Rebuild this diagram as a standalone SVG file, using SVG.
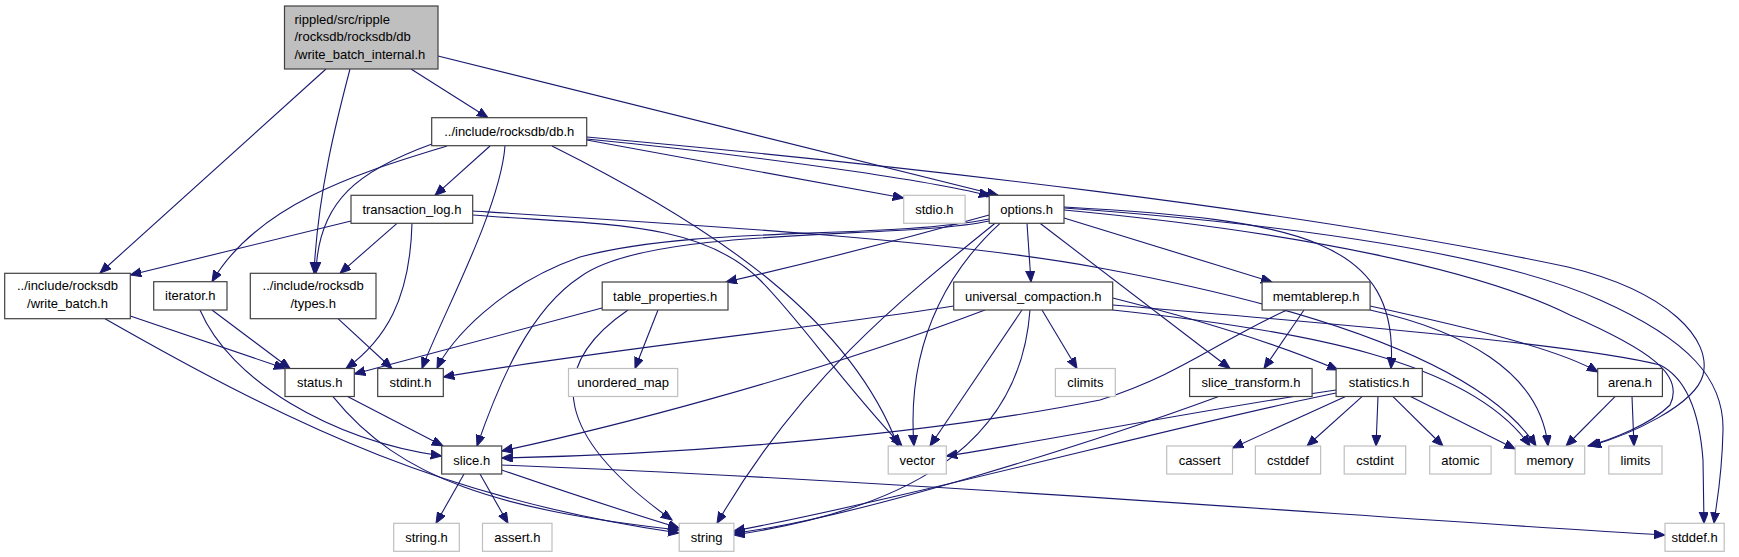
<svg xmlns="http://www.w3.org/2000/svg" width="1739" height="557" viewBox="0 0 1739 557">
<style>
.n rect{fill:#fff;stroke:#404040;stroke-width:1.2}
.g rect{fill:#fff;stroke:#bfbfbf;stroke-width:1.2}
.r rect{fill:#bfbfbf;stroke:#404040;stroke-width:1.2}
text{font-family:"Liberation Sans",Arial,Helvetica,sans-serif;font-size:13px;fill:#000}
.c{text-anchor:middle}
.e path{fill:none;stroke:#191970;stroke-width:1.1;marker-end:url(#a)}
</style>
<defs>
<marker id="a" markerWidth="12" markerHeight="10" refX="11" refY="4.5" orient="auto" markerUnits="userSpaceOnUse">
<path d="M0,0 L11,4.5 L0,9 z" fill="#191970" stroke="#191970" stroke-width="1"/>
</marker>
</defs>
<rect width="1739" height="557" fill="#fff"/>
<g class="e" id="edges">
<path d="M326,69 L100,273"/>
<path d="M350,69 C338,115 318,190 314,273"/>
<path d="M411,69 L488,117.7"/>
<path d="M438,56 L998,195.3"/>
<path d="M447,146 C370,170 260,200 212,281.7"/>
<path d="M432,144 C360,170 318,200 316,273"/>
<path d="M490,146 L435,195.3"/>
<path d="M505,146 C500,210 440,320 422,368.5"/>
<path d="M552,146 C720,230 850,320 898,446"/>
<path d="M586.7,140 L903.7,198"/>
<path d="M586.7,139 C800,160 950,185 990,196"/>
<path d="M586.7,137 C900,165 1300,210 1568,267 C1670,292 1712,340 1703,375 C1695,405 1630,435 1590,446"/>
<path d="M351,221 L130.3,275"/>
<path d="M397,223.3 L340,273.3"/>
<path d="M412,223.3 C410,300 385,340 346,368.5"/>
<path d="M472.7,211 C700,225 950,240 1100,268 C1300,305 1480,360 1536,446"/>
<path d="M472.7,215 C600,225 700,220 760,280 C800,320 840,380 902,446"/>
<path d="M989.2,215 C900,240 800,265 726,282"/>
<path d="M1027,223.3 L1031,282"/>
<path d="M1064,218 L1272,282"/>
<path d="M1040,223.3 L1230,368.5"/>
<path d="M1064,207 C1300,220 1400,240 1391,368.5"/>
<path d="M1064,210 C1300,232 1480,270 1570,315 C1650,350 1685,375 1670,405 C1650,425 1610,440 1588,446"/>
<path d="M1064,208 C1300,225 1500,255 1600,300 C1690,340 1724,380 1723,430 C1722,480 1716,505 1714,523.3"/>
<path d="M989.2,221 C900,240 650,225 580,277 C530,310 500,380 477,446"/>
<path d="M989.2,219 C880,240 700,225 580,257 C500,285 450,340 437,368.5"/>
<path d="M1000,223.3 C960,260 905,330 914,446"/>
<path d="M995,223.3 C900,300 800,380 717,523.3"/>
<path d="M953.7,306 C800,330 600,350 443.3,377"/>
<path d="M985,310 C800,380 600,430 501.7,451"/>
<path d="M1022,310 L930,446"/>
<path d="M1030,310 C1020,450 900,510 733.9,535"/>
<path d="M1042,310 L1077,368.5"/>
<path d="M1112.7,298 C1200,320 1280,345 1338,370"/>
<path d="M1112.7,310 C1300,330 1470,360 1530,446"/>
<path d="M1112.7,305 C1350,325 1580,345 1660,365 C1690,380 1700,420 1703,460 L1704,523.3"/>
<path d="M1287,310 C1220,340 1180,375 1100,400 C900,440 650,455 501.7,458"/>
<path d="M1304,310 L1264,368.5"/>
<path d="M1370,306 C1480,330 1560,350 1598,372"/>
<path d="M1370,310 C1460,330 1540,370 1548,446"/>
<path d="M130.3,316 L285,368.5"/>
<path d="M105,318.7 C300,430 450,500 679,533"/>
<path d="M212,310 L290,368.5"/>
<path d="M200,310 C230,380 330,440 441.7,456"/>
<path d="M338,318.7 L392,368.5"/>
<path d="M602,308 L354.3,374"/>
<path d="M658,310 L635,368.5"/>
<path d="M628,310 C540,370 560,440 672,520"/>
<path d="M348,396.7 L443,446"/>
<path d="M333,396.7 C400,480 500,510 679,530"/>
<path d="M1218,396.7 C1100,440 850,520 733.9,533"/>
<path d="M1345,396.7 L1232.5,448"/>
<path d="M1362,396.7 L1307,446"/>
<path d="M1378,396.7 L1376,446"/>
<path d="M1393,396.7 L1443,446"/>
<path d="M1411,396.7 L1515.2,449"/>
<path d="M1336,393 C1200,420 900,500 733.9,531"/>
<path d="M1336,390 C1200,410 1050,440 946.3,456"/>
<path d="M1615,396.7 L1566,446"/>
<path d="M1632,396.7 L1634,446"/>
<path d="M464,474 L436,523.3"/>
<path d="M480,474 L508,523.3"/>
<path d="M501.7,470 C560,490 620,510 679.2,528"/>
<path d="M501.7,465 C900,480 1400,520 1665,535"/>
</g>
<g id="n0" class="r"><rect x="284.5" y="6" width="153.5" height="63"/><text x="294.5" y="24">rippled/src/ripple</text><text x="294.5" y="41.4">/rocksdb/rocksdb/db</text><text x="294.5" y="58.7">/write_batch_internal.h</text></g>
<g id="n1" class="n"><rect x="431.7" y="117.7" width="155" height="28"/><text class="c" x="509.2" y="136.2">../include/rocksdb/db.h</text></g>
<g id="n2" class="n"><rect x="351" y="195.3" width="121.7" height="28"/><text class="c" x="411.9" y="213.8">transaction_log.h</text></g>
<g id="n3" class="g"><rect x="903.7" y="195.3" width="61.4" height="28"/><text class="c" x="934.4" y="213.8">stdio.h</text></g>
<g id="n4" class="n"><rect x="989.2" y="195.3" width="74.8" height="28"/><text class="c" x="1026.6" y="213.8">options.h</text></g>
<g id="n5" class="n"><rect x="4.7" y="273.3" width="125.6" height="45.4"/><text class="c" x="67.5" y="290.3">../include/rocksdb</text><text class="c" x="67.5" y="308">/write_batch.h</text></g>
<g id="n6" class="n"><rect x="153.7" y="281.7" width="73.3" height="28.3"/><text class="c" x="190.3" y="300.3">iterator.h</text></g>
<g id="n7" class="n"><rect x="250.3" y="273.3" width="125.7" height="45.4"/><text class="c" x="313.2" y="290.3">../include/rocksdb</text><text class="c" x="313.2" y="308">/types.h</text></g>
<g id="n8" class="n"><rect x="602.2" y="282" width="125.8" height="28"/><text class="c" x="665.1" y="300.5">table_properties.h</text></g>
<g id="n9" class="n"><rect x="953.7" y="282" width="159" height="28"/><text class="c" x="1033.2" y="300.5">universal_compaction.h</text></g>
<g id="n10" class="n"><rect x="1262.1" y="282" width="108" height="28"/><text class="c" x="1316.1" y="300.5">memtablerep.h</text></g>
<g id="n11" class="n"><rect x="285" y="368.5" width="69.3" height="28"/><text class="c" x="319.7" y="387">status.h</text></g>
<g id="n12" class="n"><rect x="377.7" y="368.5" width="65.6" height="28"/><text class="c" x="410.5" y="387">stdint.h</text></g>
<g id="n13" class="g"><rect x="568.5" y="368.5" width="109.2" height="28"/><text class="c" x="623.1" y="387">unordered_map</text></g>
<g id="n14" class="g"><rect x="1055.4" y="368.5" width="59.9" height="28"/><text class="c" x="1085.4" y="387">climits</text></g>
<g id="n15" class="n"><rect x="1189.6" y="368.5" width="122.5" height="28"/><text class="c" x="1250.9" y="387">slice_transform.h</text></g>
<g id="n16" class="n"><rect x="1336.1" y="368.5" width="86.2" height="28"/><text class="c" x="1379.2" y="387">statistics.h</text></g>
<g id="n17" class="n"><rect x="1597.7" y="368.5" width="64.7" height="28"/><text class="c" x="1630" y="387">arena.h</text></g>
<g id="n18" class="n"><rect x="441.7" y="446" width="60" height="28"/><text class="c" x="471.7" y="464.5">slice.h</text></g>
<g id="n19" class="g"><rect x="888.2" y="446" width="58.1" height="28"/><text class="c" x="917.3" y="464.5">vector</text></g>
<g id="n20" class="g"><rect x="1166.7" y="446" width="65.8" height="28"/><text class="c" x="1199.6" y="464.5">cassert</text></g>
<g id="n21" class="g"><rect x="1255.4" y="446" width="65.2" height="28"/><text class="c" x="1288" y="464.5">cstddef</text></g>
<g id="n22" class="g"><rect x="1344.2" y="446" width="61.5" height="28"/><text class="c" x="1375" y="464.5">cstdint</text></g>
<g id="n23" class="g"><rect x="1429.7" y="446" width="61.4" height="28"/><text class="c" x="1460.4" y="464.5">atomic</text></g>
<g id="n24" class="g"><rect x="1515.2" y="446" width="69.5" height="28"/><text class="c" x="1550" y="464.5">memory</text></g>
<g id="n25" class="g"><rect x="1608.8" y="446" width="53.2" height="28"/><text class="c" x="1635.4" y="464.5">limits</text></g>
<g id="n26" class="g"><rect x="393.7" y="523.3" width="65.6" height="28"/><text class="c" x="426.5" y="541.8">string.h</text></g>
<g id="n27" class="g"><rect x="482.5" y="523.3" width="69.5" height="28"/><text class="c" x="517.3" y="541.8">assert.h</text></g>
<g id="n28" class="g"><rect x="679.2" y="523.3" width="54.7" height="28"/><text class="c" x="706.6" y="541.8">string</text></g>
<g id="n29" class="g"><rect x="1665" y="523.3" width="59.2" height="28"/><text class="c" x="1694.6" y="541.8">stddef.h</text></g>
</svg>
